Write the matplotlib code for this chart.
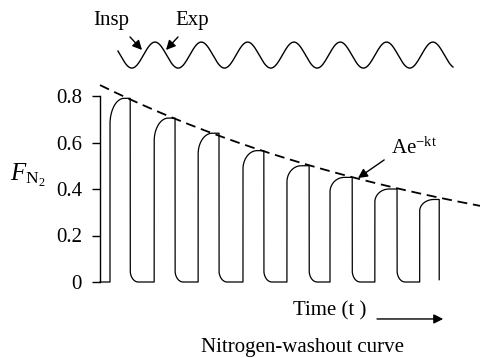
import numpy as np
import matplotlib
matplotlib.use("Agg")
import matplotlib.pyplot as plt

plt.rcParams['font.family'] = ['Liberation Serif', 'DejaVu Serif']
plt.rcParams['mathtext.fontset'] = 'custom'
plt.rcParams['mathtext.rm'] = 'Liberation Serif'
plt.rcParams['mathtext.it'] = 'Liberation Serif:italic'

# ---- data (time in breath units, F_N2 fraction) ----
rise_times = [0.225, 1.22, 2.21, 3.22, 4.21, 5.18, 6.19, 7.20]
drop_times = [0.68, 1.69, 2.68, 3.69, 4.71, 5.68, 6.69, 7.64]
peak_values = [0.79, 0.705, 0.64, 0.565, 0.50, 0.45, 0.40, 0.355]
yticks = [0, 0.2, 0.4, 0.6, 0.8]
ytick_labels = ['0', '0.2', '0.4', '0.6', '0.8']
fit_A = 0.847
fit_k = 0.111
wave_start, wave_end = 0.405, 7.95
wave_first_peak = 1.239
wave_period = 1.043
wave_center, wave_amp = 0.976, 0.056

# ---- build washout trace ----
rise_w = 0.32
fall_w = 0.18
knee = 0.86
fall_knee = 0.05
xs, ys = [0.0], [0.0]
th = np.linspace(0, np.pi / 2, 20)
for i, (r, d, p) in enumerate(zip(rise_times, drop_times, peak_values)):
    xs += [r, r]
    ys += [0.0, knee * p]
    xs += list(r + rise_w - rise_w * np.cos(th))
    ys += list(knee * p + (1 - knee) * p * np.sin(th))
    xs += [d]
    ys += [p]
    if i < len(rise_times) - 1:
        xs += [d]
        ys += [fall_knee]
        xs += list(d + fall_w - fall_w * np.cos(th))
        ys += list(fall_knee - fall_knee * np.sin(th))
    else:
        xs += [d]
        ys += [0.01]

fig = plt.figure(figsize=(4.81, 3.58), dpi=100)
ax = fig.add_axes([100 / 481, 76 / 358, 381 / 481, 186 / 358])
ax.set_xlim(0, 381 / 44.4)
ax.set_ylim(0, 0.8)
for s in ['top', 'right', 'bottom']:
    ax.spines[s].set_visible(False)
ax.spines['left'].set_linewidth(1.0)
ax.set_xticks([])
ax.set_yticks(yticks)
ax.set_yticklabels(ytick_labels)
ax.tick_params(axis='y', length=6, width=1.0, pad=7, labelsize=15)

ax.plot(xs, ys, color='black', lw=0.9, clip_on=False, solid_joinstyle='round')

t = np.linspace(0, 381 / 44.4, 300)
ax.plot(t, fit_A * np.exp(-fit_k * t), color='black', lw=1.3,
        dashes=(5.5, 3.2), clip_on=False)

tw = np.linspace(wave_start, wave_end, 500)
ax.plot(tw, wave_center + wave_amp * np.cos(2 * np.pi * (tw - wave_first_peak) / wave_period),
        color='black', lw=1.0, clip_on=False)

arrow_kw = dict(arrowstyle='-|>', color='black', lw=1.0, mutation_scale=14,
                shrinkA=0, shrinkB=0)
ax.text(0.25, 1.123, 'Insp', ha='center', va='center', fontsize=15)
ax.text(2.07, 1.123, 'Exp', ha='center', va='center', fontsize=15)
ax.annotate('', xy=(0.946, 0.998), xytext=(0.676, 1.054),
            arrowprops=arrow_kw, annotation_clip=False)
ax.annotate('', xy=(1.486, 0.998), xytext=(1.757, 1.054),
            arrowprops=arrow_kw, annotation_clip=False)

ax.text(6.56, 0.575, r'Ae$^{\mathrm{-kt}}$', ha='left', va='center', fontsize=15)
ax.annotate('', xy=(5.81, 0.447), xytext=(6.40, 0.525),
            arrowprops=arrow_kw, annotation_clip=False)

ax.text(-1.62, 0.46, r'$F_{\mathrm{N}_2}$', ha='center', va='center', fontsize=18)

ax.text(5.18, -0.125, 'Time (t )', ha='center', va='center', fontsize=15)
ax.annotate('', xy=(7.73, -0.159), xytext=(6.24, -0.159),
            arrowprops=arrow_kw, annotation_clip=False)
ax.text(4.55, -0.28, 'Nitrogen-washout curve', ha='center', va='center', fontsize=15)

fig.savefig('out.png', dpi=100)
